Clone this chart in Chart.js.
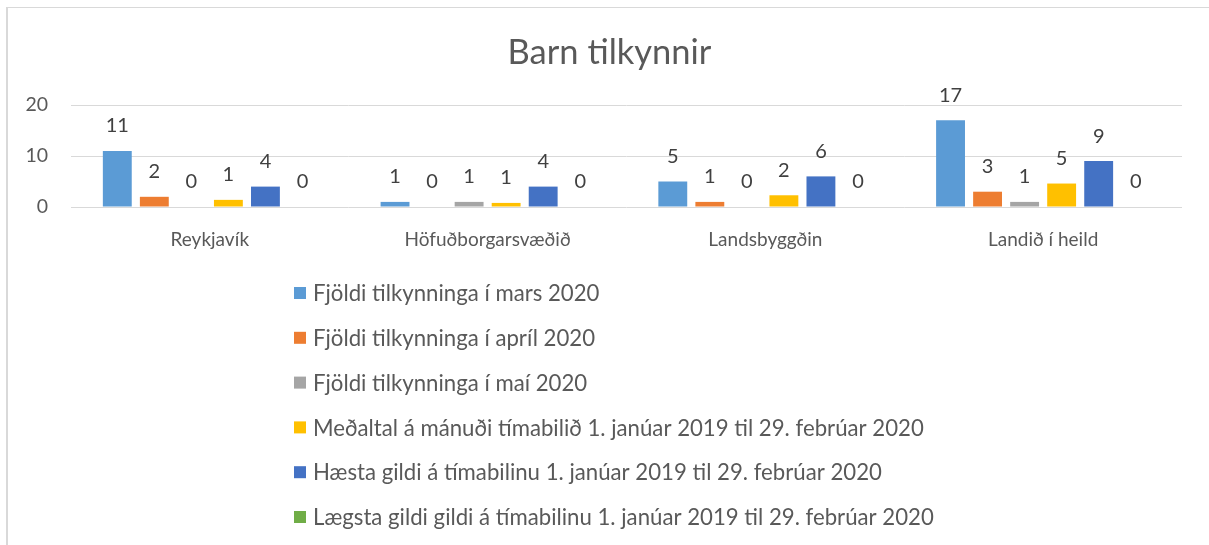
<!DOCTYPE html>
<html>
<head>
<meta charset="utf-8">
<script src="https://cdn.jsdelivr.net/npm/chart.js@4/dist/chart.umd.min.js"></script>
<style>
  html, body { margin: 0; padding: 0; background: #fff; overflow: hidden; }
  #frame { position: absolute; left: 6px; top: 7px; width: 1220px; height: 560px;
           border-left: 2px solid #d9d9d9; border-top: 1px solid #d9d9d9; }
  #grafico { position: absolute; left: 0; top: 0; }
</style>
</head>
<body>
<div id="frame"></div>
<canvas id="grafico" width="1209" height="545"></canvas>
<script>
// Dados do gráfico
const categorias = ["Reykjavík", "Höfuðborgarsvæðið", "Landsbyggðin", "Landið í heild"];
const seriesNomes = [
  "Fjöldi tilkynninga í mars 2020",
  "Fjöldi tilkynninga í apríl 2020",
  "Fjöldi tilkynninga í maí 2020",
  "Meðaltal á mánuði tímabilið 1. janúar 2019 til 29. febrúar 2020",
  "Hæsta gildi á tímabilinu 1. janúar 2019 til 29. febrúar 2020",
  "Lægsta gildi gildi á tímabilinu 1. janúar 2019 til 29. febrúar 2020"
];
const mars = [11, 1, 5, 17];
const april = [2, 0, 1, 3];
const mai = [0, 1, 0, 1];
const medaltal = [1.4, 0.8, 2.3, 4.6];
const haesta = [4, 4, 6, 9];
const laegsta = [0, 0, 0, 0];
const yTicks = [0, 10, 20];

const cores = ["#5B9BD5", "#ED7D31", "#A5A5A5", "#FFC000", "#4472C4", "#70AD47"];
const valores = [mars, april, mai, medaltal, haesta, laegsta];
const fonte = "Lato, 'Open Sans', sans-serif";
const corTexto = "#595959";

// Rótulos de valor acima das barras
const rotulosPlugin = {
  id: "rotulos",
  afterDatasetsDraw(chart) {
    const ctx = chart.ctx;
    ctx.save();
    ctx.font = "20px " + fonte;
    ctx.fillStyle = "#404040";
    ctx.textAlign = "center";
    ctx.textBaseline = "middle";
    chart.data.datasets.forEach((ds, i) => {
      chart.getDatasetMeta(i).data.forEach((bar, j) => {
        ctx.fillText(String(Math.round(ds.data[j])), bar.x, bar.y - 25);
      });
    });
    ctx.restore();
  }
};

// Legenda vertical desenhada abaixo do eixo
const legendaPlugin = {
  id: "legendaVertical",
  afterDraw(chart) {
    const ctx = chart.ctx;
    ctx.save();
    ctx.font = "22.2px " + fonte;
    ctx.textBaseline = "middle";
    ctx.textAlign = "left";
    chart.data.datasets.forEach((ds, i) => {
      const y = 293 + i * 44.8;
      ctx.fillStyle = ds.backgroundColor;
      ctx.fillRect(294, y - 6, 12, 12);
      ctx.fillStyle = corTexto;
      ctx.fillText(ds.label, 313, y + 1);
    });
    ctx.restore();
  }
};

new Chart(document.getElementById("grafico"), {
  type: "bar",
  data: {
    labels: categorias,
    datasets: seriesNomes.map((nome, i) => ({
      label: nome,
      data: valores[i],
      backgroundColor: cores[i],
      borderWidth: 0,
      categoryPercentage: 0.8,
      barPercentage: 0.78
    }))
  },
  options: {
    responsive: false,
    animation: false,
    layout: { padding: { left: 10, right: 0, top: 0, bottom: 0 } },
    plugins: {
      legend: { display: false },
      tooltip: { enabled: false },
      title: {
        display: true,
        text: "Barn tilkynnir",
        color: corTexto,
        font: { family: fonte, size: 34.5, weight: "normal", lineHeight: 1.2 },
        padding: { top: 32, bottom: 31.6 }
      }
    },
    scales: {
      x: {
        grid: { display: false, drawTicks: false },
        border: { display: false },
        ticks: { color: corTexto, font: { family: fonte, size: 19 }, padding: 21 },
        afterFit(scale) { scale.height = 338; }
      },
      y: {
        min: 0,
        max: 20,
        afterBuildTicks(scale) { scale.ticks = yTicks.map(v => ({ value: v })); },
        grid: { color: "#d9d9d9", lineWidth: 1, drawTicks: false },
        border: { display: false },
        ticks: { color: corTexto, font: { family: fonte, size: 19.5 }, padding: 23 },
        afterFit(scale) { scale.width = 61; }
      },
      // eixo vazio à direita, só para reservar a margem
      margemDireita: {
        type: "linear",
        position: "right",
        grid: { display: false, drawTicks: false },
        border: { display: false },
        ticks: { display: false },
        afterFit(scale) { scale.width = 27; }
      }
    }
  },
  plugins: [rotulosPlugin, legendaPlugin]
});
</script>
</body>
</html>
